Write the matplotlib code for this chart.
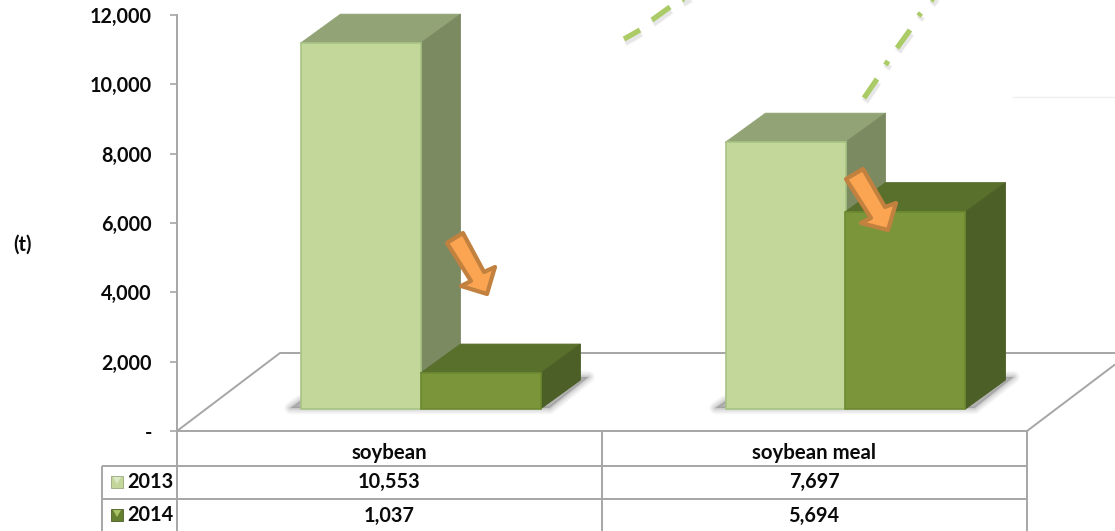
import matplotlib
matplotlib.use("Agg")
import matplotlib.pyplot as plt
from matplotlib.patches import Polygon, Rectangle
from matplotlib.transforms import Affine2D, IdentityTransform
from matplotlib.ticker import FuncFormatter

categories = ["soybean", "soybean meal"]
years = ["2013", "2014"]
values_2013 = [10553, 7697]
values_2014 = [1037, 5694]
y_ticks = [0, 2000, 4000, 6000, 8000, 10000, 12000]

W, H = 1115, 531
AX_L, AX_R, AX_T, AX_B = 177, 1027, 15, 431
plt.rcParams["font.family"] = ["Lato", "DejaVu Sans"]
plt.rcParams["font.weight"] = "bold"

fig = plt.figure(figsize=(W / 100, H / 100), dpi=100)
ax = fig.add_axes([AX_L / W, 1 - AX_B / H, (AX_R - AX_L) / W, (AX_B - AX_T) / H])
ax.set_xlim(0, 2)
ax.set_ylim(0, 12000)
px = Affine2D().scale(1, -1).translate(0, H)      # reference pixels -> display

GRID = "#A6A6A6"
for s in ("top", "right"):
    ax.spines[s].set_visible(False)
for s in ("left", "bottom"):
    ax.spines[s].set_color(GRID)
    ax.spines[s].set_linewidth(1.4)
ax.set_xticks([])
ax.set_yticks(y_ticks)
ax.yaxis.set_major_formatter(FuncFormatter(lambda v, _: "-" if v == 0 else f"{int(v):,}"))
ax.tick_params(axis="y", length=5, width=1.2, color=GRID, labelsize=14.2, pad=13, labelcolor="#0A0A0A")

ux = 2 / (AX_R - AX_L)            # data units per pixel
uy = 12000 / (AX_B - AX_T)
DX, DY = 40 * ux, 29 * uy         # bar depth
BASE = 22 * uy                    # front base above the axis floor
BAR_W = 120 * ux
SHIFT = 31 * ux


def line(xs, ys, color=GRID, lw=1.4, z=1):
    ax.plot(xs, ys, color=color, lw=lw, transform=px, clip_on=False, zorder=z,
            solid_capstyle="butt")


# floor
line([177, 280, 1115], [431, 353, 353])
line([1027, 1115], [431, 364.5])
line([1012, 1115], [97, 97], color="#EFEFEF", lw=1)

# table grid
line([102, 1027], [466, 466])
line([102, 1027], [499, 499])
for xv, top in [(102, 466), (177, 431), (601.5, 431), (1027, 431)]:
    line([xv, xv], [top, 531])

STYLES = [
    dict(front="#C4D79B", top="#92A476", side="#7C8A62", edge="#A8C383"),
    dict(front="#7B953A", top="#596F2C", side="#4B5F26", edge="#6C8A30"),
]


def box(left, value, st, z):
    base = BASE
    h = base + value
    r = left + BAR_W
    ax.bar(left, value, BAR_W, bottom=base, align="edge", color=st["front"],
           edgecolor=st["edge"], linewidth=1.2, zorder=z + 0.2)
    ax.add_patch(Polygon([(left, h), (r, h), (r + DX, h + DY), (left + DX, h + DY)],
                         fc=st["top"], ec=st["top"], lw=0.6, zorder=z, clip_on=False))
    ax.add_patch(Polygon([(r, base), (r + DX, base + DY), (r + DX, h + DY), (r, h)],
                         fc=st["side"], ec=st["side"], lw=0.6, zorder=z + 0.1, clip_on=False))


def shadow(left, z=1.5):
    r = left + 2 * BAR_W
    pts = [(left - 10 * ux, BASE + 1 * uy), (left, BASE + 8 * uy), (r + DX, BASE + DY + 3 * uy),
           (r + DX + 8 * ux, BASE + DY + 3 * uy), (r + 9 * ux, BASE + 1 * uy)]
    for lw, a in [(9, 0.04), (7, 0.05), (5, 0.06), (3, 0.07), (1.5, 0.08)]:
        ax.add_patch(Polygon(pts, fc=(0.25, 0.25, 0.25, a), ec=(0.25, 0.25, 0.25, a), lw=lw,
                             joinstyle="round", zorder=z, clip_on=False))


for i in range(len(categories)):
    left = i + SHIFT + 0.5 - BAR_W
    shadow(left)
    box(left, values_2013[i], STYLES[0], 2 + i)
    box(left + BAR_W, values_2014[i], STYLES[1], 2.5 + i)

# orange arrows (annotations)
ARROWS = [
    [(447, 243), (463, 233), (484, 272), (495, 267), (487, 294), (461, 286), (471, 281)],
    [(846, 179), (863, 169), (885, 207), (896, 203), (888, 230), (861, 223), (871, 218)],
]
for pts in ARROWS:
    ax.add_patch(Polygon(pts, fc="#FBA552", ec="#C2813F", lw=3, joinstyle="round",
                         transform=px, zorder=8, clip_on=False))

# dashed green decoration lines
DASHES = [
    [(624, 39), (640, 30)], [(652, 20), (670, 7)], [(682, 0), (692, -6)],
    [(864, 98), (877, 79)], [(885.5, 65), (888, 61)], [(897, 48), (910, 30)],
    [(918.5, 16), (921, 13)], [(931, 1), (936, -5)],
]
for (x0, y0), (x1, y1) in DASHES:
    for off, a in [(3, 0.06), (2, 0.08)]:
        line([x0 + 1, x1 + 1], [y0 + off + 1, y1 + off + 1], color=(0.3, 0.3, 0.3, a), lw=5, z=1.2)
    line([x0, x1], [y0, y1], color="#ABCB67", lw=3.8, z=1.3)

# axis unit
ax.text(22.5, 245, "(t)", transform=px, ha="center", va="center", fontsize=14.5,
        color="#0A0A0A", clip_on=False)

# table text
TXT = dict(transform=px, ha="center", va="center", color="#0A0A0A", clip_on=False, zorder=9)
CENTERS = [389.5, 814]
for c, cat, a, b in zip(CENTERS, categories, values_2013, values_2014):
    ax.text(c, 453, cat, fontsize=14.7, **TXT)
    ax.text(c, 481.5, f"{a:,}", fontsize=14.3, **TXT)
    ax.text(c, 515.5, f"{b:,}", fontsize=14.3, **TXT)

KEYS = [("#C4D79B", "#DDE8C4", "#98A97C", 482), ("#657F30", "#A9C263", "#4B5F26", 515)]
for yr, (fc, hi, ec, yc) in zip(years, KEYS):
    ax.add_patch(Rectangle((111, yc - 6), 12, 12, fc=fc, ec=ec, lw=0.6, transform=px, clip_on=False, zorder=9))
    ax.add_patch(Polygon([(113, yc - 5), (121, yc - 5), (117, yc + 2)], fc=hi, ec="none", transform=px,
                         clip_on=False, zorder=9))
    ax.text(150.5, yc, yr, fontsize=14.3, **TXT)

fig.savefig("out.png", dpi=100)
